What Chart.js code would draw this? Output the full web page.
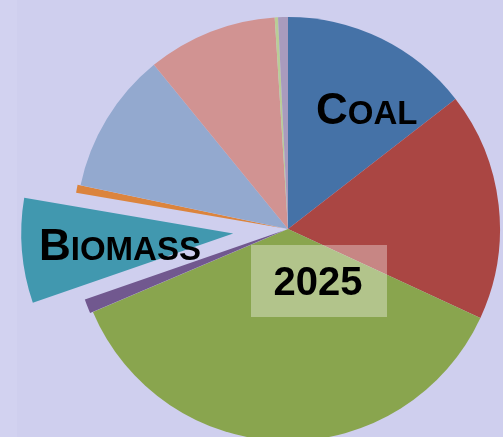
<!DOCTYPE html>
<html lang="en">
<head>
    <meta charset="UTF-8">
    <title>2025 Energy Mix</title>
    <script src="https://cdn.jsdelivr.net/npm/chart.js"></script>
    <style>
        html, body {
            margin: 0;
            padding: 0;
            overflow: hidden;
            background: linear-gradient(to right, #d2d2f0 0, #d2d2f0 17px, #cfcfee 17px);
        }
        canvas {
            display: block;
        }
    </style>
</head>
<body>
    <canvas id="myChart" width="503" height="437"></canvas>

    <script>
        // slices clockwise from 12 o'clock, shares in %
        const categories = ['Coal', 'Source 2', 'Source 3', 'Source 4', 'Biomass', 'Source 6', 'Source 7', 'Source 8', 'Source 9', 'Source 10'];
        const shares = [14.5, 17.4, 36.7, 1.1, 8.0, 0.6, 10.8, 9.9, 0.25, 0.75];
        const sliceColors = ['#4572a7', '#aa4643', '#89a54e', '#71588f', '#4198af', '#db843d', '#93a9cf', '#d19392', '#b9cd96', '#a99bbd'];
        // how far each slice is pulled out of the pie, px
        const explode = [0, 0, 0, 3, 55, 3, 0, 0, 0, 0];
        const yearLabel = '2025';

        function smallCaps(ctx, word, x, y, big, small) {
            ctx.font = 'bold ' + big + 'px "Liberation Sans", Arial, sans-serif';
            ctx.fillText(word[0], x, y);
            const w = ctx.measureText(word[0]).width;
            ctx.font = 'bold ' + small + 'px "Liberation Sans", Arial, sans-serif';
            ctx.fillText(word.slice(1).toUpperCase(), x + w, y);
        }

        // chart.js offset also grows the radius, so move the arcs ourselves
        const explodePlugin = {
            id: 'explodePlugin',
            afterDatasetUpdate(chart, args) {
                const arcs = chart.getDatasetMeta(args.index).data;
                arcs.forEach((arc, i) => {
                    const d = explode[i] || 0;
                    if (!d) return;
                    const mid = (arc.startAngle + arc.endAngle) / 2;
                    arc.x += Math.cos(mid) * d;
                    arc.y += Math.sin(mid) * d;
                });
            }
        };

        const labelPlugin = {
            id: 'labelPlugin',
            afterDraw(chart) {
                const ctx = chart.ctx;
                ctx.save();
                ctx.fillStyle = '#000';
                ctx.textAlign = 'left';
                ctx.textBaseline = 'alphabetic';
                smallCaps(ctx, categories[0], 316, 124, 44, 33);
                smallCaps(ctx, categories[4], 39, 260, 44, 33);

                ctx.fillStyle = 'rgba(255, 255, 255, 0.35)';
                ctx.fillRect(251, 245, 136, 72);
                ctx.fillStyle = '#000';
                ctx.textAlign = 'center';
                ctx.font = 'bold 40px "Liberation Sans", Arial, sans-serif';
                ctx.fillText(yearLabel, 318, 295);
                ctx.restore();
            }
        };

        const ctx = document.getElementById('myChart').getContext('2d');
        const myChart = new Chart(ctx, {
            type: 'pie',
            data: {
                labels: categories,
                datasets: [{
                    data: shares,
                    backgroundColor: sliceColors,
                    borderWidth: 0,
                    clip: false
                }]
            },
            options: {
                responsive: false,
                animation: false,
                radius: 212,
                layout: {
                    padding: { left: 73, right: 0, top: 21, bottom: 0 }
                },
                plugins: {
                    legend: { display: false },
                    tooltip: { enabled: false }
                }
            },
            plugins: [explodePlugin, labelPlugin]
        });
    </script>
</body>
</html>
